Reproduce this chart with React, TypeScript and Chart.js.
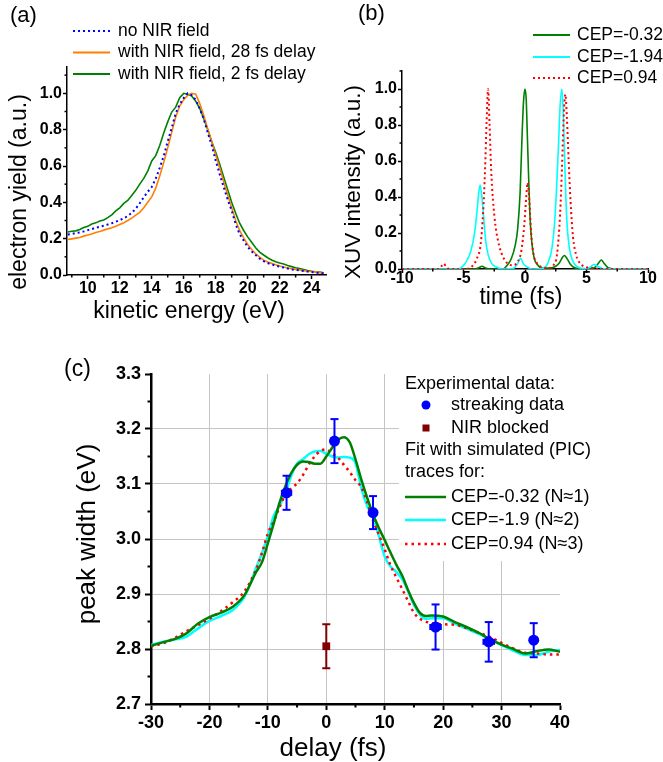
import React, { useEffect, useRef } from 'react';
import { Chart, registerables } from 'chart.js';

Chart.register(...registerables);

const W = 663;
const H = 762;
const FONT = "'Liberation Sans', Arial, Helvetica, sans-serif";

// ---------------- Panel (a): electron yield vs kinetic energy ----------------
const aEnergy = [
  8.75, 9, 9.25, 9.5, 9.75, 10, 10.25, 10.5, 10.75, 11, 11.25, 11.5, 11.75, 12, 12.25, 12.5,
  12.75, 13, 13.25, 13.5, 13.75, 14, 14.25, 14.5, 14.75, 15, 15.25, 15.5, 15.75, 16, 16.25,
  16.5, 16.75, 17, 17.25, 17.5, 17.75, 18, 18.25, 18.5, 18.75, 19, 19.25, 19.5, 19.75, 20,
  20.25, 20.5, 20.75, 21, 21.25, 21.5, 21.75, 22, 22.25, 22.5, 22.75, 23, 23.25, 23.5, 23.75,
  24, 24.25, 24.5, 24.75,
];
const aNoNIR = [
  0.223, 0.226, 0.231, 0.234, 0.24, 0.247, 0.253, 0.26, 0.265, 0.271, 0.278, 0.285, 0.293, 0.302,
  0.312, 0.325, 0.342, 0.365, 0.395, 0.428, 0.458, 0.484, 0.53, 0.59, 0.655, 0.735, 0.81, 0.89,
  0.94, 0.975, 1.0, 0.99, 0.965, 0.915, 0.86, 0.785, 0.715, 0.63, 0.555, 0.485, 0.415, 0.355,
  0.28, 0.225, 0.19, 0.155, 0.13, 0.11, 0.09, 0.076, 0.066, 0.058, 0.052, 0.046, 0.041, 0.036,
  0.031, 0.028, 0.025, 0.022, 0.019, 0.016, 0.013, 0.011, 0.009,
];
const aNIR28fs = [
  0.195, 0.199, 0.203, 0.206, 0.214, 0.22, 0.226, 0.234, 0.24, 0.247, 0.254, 0.26, 0.268, 0.278,
  0.288, 0.3, 0.313, 0.33, 0.345, 0.37, 0.4, 0.43, 0.478, 0.545, 0.62, 0.7, 0.785, 0.87, 0.93,
  0.965, 0.99, 1.0, 0.995, 0.945, 0.88, 0.805, 0.735, 0.66, 0.59, 0.513, 0.44, 0.37, 0.3, 0.245,
  0.204, 0.168, 0.14, 0.117, 0.098, 0.082, 0.072, 0.064, 0.056, 0.049, 0.044, 0.039, 0.035,
  0.031, 0.028, 0.024, 0.021, 0.019, 0.017, 0.013, 0.01,
];
const aNIR2fs = [
  0.237, 0.241, 0.243, 0.25, 0.261, 0.268, 0.281, 0.287, 0.297, 0.303, 0.316, 0.331, 0.353, 0.37,
  0.394, 0.41, 0.438, 0.466, 0.5, 0.532, 0.572, 0.628, 0.657, 0.713, 0.782, 0.843, 0.897, 0.924,
  0.976, 1.0, 0.995, 0.985, 0.957, 0.918, 0.862, 0.801, 0.735, 0.675, 0.61, 0.54, 0.47, 0.4,
  0.34, 0.285, 0.245, 0.21, 0.18, 0.15, 0.126, 0.11, 0.095, 0.083, 0.073, 0.066, 0.06, 0.052,
  0.046, 0.04, 0.035, 0.03, 0.025, 0.021, 0.018, 0.016, 0.012,
];
const aXTicks = [10, 12, 14, 16, 18, 20, 22, 24];
const aXMinor = [9, 11, 13, 15, 17, 19, 21, 23];
const aYTicks = [0, 0.2, 0.4, 0.6, 0.8, 1.0];
const aYMinor = [0.1, 0.3, 0.5, 0.7, 0.9, 1.1];
const aLegend = ['no NIR field', 'with NIR field, 28 fs delay', 'with NIR field, 2 fs delay'];

// ---------------- Panel (b): XUV intensity vs time ----------------
const bGreenT = [
  -10, -4.2, -3.8, -3.5, -3.2, -2.8, -1.8, -1.4, -1.1, -0.8, -0.6, -0.4, -0.25, -0.12, 0, 0.1, 0.2,
  0.3, 0.4, 0.55, 0.75, 1.0, 1.4, 2.0, 2.5, 2.8, 3.05, 3.2, 3.4, 3.7, 4.1, 5.2, 5.7, 6.0, 6.2, 6.45,
  6.8, 7.5, 10,
];
const bGreenV = [
  0, 0, 0.005, 0.015, 0.005, 0, 0, 0.025, 0.06, 0.13, 0.22, 0.42, 0.72, 0.93, 1.0, 0.94, 0.72, 0.5,
  0.3, 0.15, 0.06, 0.025, 0.005, 0.005, 0.015, 0.035, 0.065, 0.075, 0.06, 0.025, 0.005, 0, 0.01,
  0.035, 0.05, 0.03, 0.005, 0, 0,
];
const bCyanT = [
  -10, -5.4, -5.0, -4.7, -4.4, -4.1, -3.9, -3.75, -3.65, -3.55, -3.4, -3.2, -3.0, -2.7, -2.3, -1.8,
  -0.9, -0.6, -0.35, -0.15, 0.2, 0.6, 1.5, 1.9, 2.2, 2.45, 2.7, 2.85, 3.0, 3.12, 3.25, 3.4, 3.6,
  3.85, 4.2, 4.8, 5.3, 5.6, 5.9, 6.3, 7, 10,
];
const bCyanV = [
  0, 0, 0.02, 0.05, 0.1, 0.2, 0.32, 0.43, 0.467, 0.43, 0.32, 0.16, 0.08, 0.03, 0.01, 0, 0.005, 0.03,
  0.06, 0.03, 0.01, 0, 0.005, 0.04, 0.12, 0.3, 0.65, 0.9, 1.0, 0.85, 0.55, 0.27, 0.12, 0.05, 0.015,
  0.003, 0.01, 0.025, 0.015, 0.003, 0, 0,
];
const bRedT = [
  -10, -7.0, -6.8, -6.6, -6.4, -6.1, -4.8, -4.3, -3.9, -3.6, -3.4, -3.25, -3.12, -3.0, -2.88, -2.75,
  -2.6, -2.4, -2.1, -1.8, -1.4, -1.0, -0.6, -0.3, -0.05, 0.1, 0.22, 0.35, 0.5, 0.7, 1.0, 1.4, 1.9,
  2.3, 2.6, 2.85, 3.0, 3.15, 3.28, 3.4, 3.55, 3.7, 3.9, 4.15, 4.5, 5.0, 5.6, 6.2, 10,
];
const bRedV = [
  0, 0, 0.015, 0.03, 0.01, 0, 0, 0.015, 0.06, 0.14, 0.32, 0.55, 0.82, 1.0, 0.8, 0.55, 0.38, 0.24,
  0.13, 0.07, 0.03, 0.02, 0.04, 0.1, 0.25, 0.4, 0.48, 0.38, 0.2, 0.08, 0.03, 0.01, 0.005, 0.02,
  0.08, 0.3, 0.55, 0.85, 0.97, 0.85, 0.6, 0.38, 0.18, 0.08, 0.03, 0.01, 0.005, 0, 0,
];
const bXTicks = [-10, -5, 0, 5, 10];
const bXMinor = [-7.5, -2.5, 2.5, 7.5];
const bYTicks = [0, 0.2, 0.4, 0.6, 0.8, 1.0];
const bYMinor = [0.1, 0.3, 0.5, 0.7, 0.9, 1.1];
const bLegend = ['CEP=-0.32', 'CEP=-1.94', 'CEP=0.94'];

// ---------------- Panel (c): peak width vs delay ----------------
const cDelay = [
  -30, -28, -26, -24, -22, -20, -18, -16, -14, -12, -11, -10, -9, -8, -7, -6, -5, -4, -3, -2, -1, 0,
  1, 2, 3, 4, 5, 6, 7, 8, 9, 10, 11, 12, 13, 14, 15, 16, 17, 18, 20, 22, 24, 26, 28, 30, 32, 34, 36,
  38, 40,
];
const cFitCEPm032 = [
  2.806, 2.812, 2.818, 2.828, 2.846, 2.858, 2.866, 2.877, 2.898, 2.94, 2.958, 2.992, 3.028, 3.066,
  3.096, 3.12, 3.135, 3.141, 3.14, 3.137, 3.137, 3.15, 3.166, 3.18, 3.185, 3.176, 3.145, 3.108,
  3.075, 3.045, 3.02, 2.998, 2.975, 2.953, 2.933, 2.907, 2.884, 2.866, 2.86, 2.861, 2.859, 2.849,
  2.84, 2.83, 2.818, 2.808, 2.8, 2.792, 2.796, 2.799, 2.795,
];
const cFitCEPm19 = [
  2.807, 2.813, 2.817, 2.822, 2.837, 2.851, 2.86, 2.871, 2.895, 2.948, 2.975, 3.005, 3.042, 3.06,
  3.083, 3.115, 3.137, 3.145, 3.154, 3.159, 3.16, 3.155, 3.15, 3.148, 3.149, 3.148, 3.138, 3.092,
  3.06, 3.04, 3.005, 2.968, 2.95, 2.94, 2.927, 2.905, 2.88, 2.863, 2.855, 2.856, 2.856, 2.846,
  2.837, 2.828, 2.818, 2.807, 2.797, 2.789, 2.789, 2.795, 2.798,
];
const cFitCEP094 = [
  2.805, 2.81, 2.82, 2.832, 2.843, 2.855, 2.869, 2.885, 2.905, 2.945, 2.975, 3.01, 3.032, 3.058,
  3.08, 3.092, 3.101, 3.116, 3.135, 3.15, 3.16, 3.163, 3.155, 3.148, 3.135, 3.122, 3.107, 3.094,
  3.067, 3.034, 3.008, 2.981, 2.952, 2.93, 2.909, 2.887, 2.866, 2.855, 2.85, 2.847, 2.845, 2.844,
  2.838, 2.83, 2.822, 2.811, 2.801, 2.793, 2.792, 2.79, 2.79,
];
const cExpDelay = [-6.8, 1.4, 8.0, 18.7, 27.8, 35.5];
const cExpWidth = [3.084, 3.178, 3.048, 2.84, 2.813, 2.816];
const cExpErr = [0.031, 0.04, 0.03, 0.041, 0.036, 0.031];
const cExpDelayErr = [0.8, 0, 0, 0.9, 0.9, 0];
const cNirDelay = [0];
const cNirWidth = [2.805];
const cNirErr = [0.04];
const cXTicks = [-30, -20, -10, 0, 10, 20, 30, 40];
const cXMinor = [-25, -15, -5, 5, 15, 25, 35];
const cYTicks = [2.7, 2.8, 2.9, 3.0, 3.1, 3.2, 3.3];
const cYMinor = [2.75, 2.85, 2.95, 3.05, 3.15, 3.25];
const cLegendHead = ['Experimental data:', 'Fit with simulated (PIC)', 'traces for:'];
const cLegendExp = ['streaking data', 'NIR blocked'];
const cLegendFit = ['CEP=-0.32 (N\u22481)', 'CEP=-1.9 (N\u22482)', 'CEP=0.94 (N\u22483)'];

// ---------------- helpers ----------------
const GREEN = '#008000';
const CYAN = '#00FFFF';
const RED = '#FF0000';
const BLUE = '#0000FF';
const ORANGE = '#FF8000';
const DARKRED = '#800000';

type AxisSpec = {
  min: number; max: number; ticks: number[]; minor: number[]; dec: number;
  tickLen: number; minorLen: number; tickW: number; borderW: number; pad: number; font: number; grid: boolean;
};
type Spec = {
  area: { l: number; t: number; r: number; b: number };
  yW: number; xH: number; x: AxisSpec; y: AxisSpec; datasets: any[];
  beforeDs?: (c: any) => void; afterDs?: (c: any) => void; after?: (c: any) => void;
};

function pts(xs: number[], ys: number[]) {
  return xs.map((x, i) => ({ x, y: ys[i] }));
}

function lineDs(xs: number[], ys: number[], color: string, width: number, dash: number[] = [], smooth = false) {
  return {
    type: 'line', data: pts(xs, ys), borderColor: color, backgroundColor: color, borderWidth: width,
    borderDash: dash, pointRadius: 0, fill: false, tension: 0,
    cubicInterpolationMode: smooth ? 'monotone' : 'default',
  };
}

function text(ctx: CanvasRenderingContext2D, t: string, x: number, y: number, size: number,
  align: CanvasTextAlign = 'left', rot = false, bold = false) {
  ctx.save();
  ctx.font = `${bold ? 'bold ' : ''}${size}px ${FONT}`;
  ctx.fillStyle = '#000';
  ctx.textAlign = align;
  ctx.textBaseline = 'middle';
  ctx.translate(x, y);
  if (rot) ctx.rotate(-Math.PI / 2);
  ctx.fillText(t, 0, 0);
  ctx.restore();
}

function seg(ctx: CanvasRenderingContext2D, x1: number, y1: number, x2: number, y2: number,
  color: string, width: number, dash: number[] = []) {
  ctx.save();
  ctx.strokeStyle = color;
  ctx.lineWidth = width;
  ctx.setLineDash(dash);
  ctx.beginPath();
  ctx.moveTo(x1, y1);
  ctx.lineTo(x2, y2);
  ctx.stroke();
  ctx.restore();
}

function scaleOpts(a: AxisSpec, which: 'x' | 'y', fixed: number) {
  return {
    type: 'linear',
    position: which === 'x' ? 'bottom' : 'left',
    min: a.min,
    max: a.max,
    afterBuildTicks: (s: any) => { s.ticks = a.ticks.map((v) => ({ value: v })); },
    afterFit: (s: any) => { if (which === 'x') s.height = fixed; else s.width = fixed; },
    ticks: {
      autoSkip: false, maxRotation: 0, minRotation: 0, color: '#000', padding: a.pad,
      font: { family: FONT, size: a.font, weight: 'bold' },
      callback: (v: any) => Number(v).toFixed(a.dec),
    },
    grid: {
      drawOnChartArea: a.grid,
      color: (c: any) => {
        const v = c.tick ? c.tick.value : NaN;
        return Math.abs(v - a.min) < 1e-9 || Math.abs(v - a.max) < 1e-9 ? 'rgba(0,0,0,0)' : '#c4c4c4';
      },
      lineWidth: 1,
      tickLength: a.tickLen,
      tickWidth: a.tickW,
      tickColor: '#000',
    },
    border: { display: true, color: '#000', width: a.borderW },
  };
}

function drawMinor(chart: any, spec: Spec) {
  const ctx = chart.ctx as CanvasRenderingContext2D;
  const ca = chart.chartArea;
  const sx = chart.scales.x;
  const sy = chart.scales.y;
  for (const v of spec.x.minor) {
    const p = sx.getPixelForValue(v);
    seg(ctx, p, ca.bottom, p, ca.bottom + spec.x.minorLen, '#000', spec.x.tickW);
  }
  for (const v of spec.y.minor) {
    const p = sy.getPixelForValue(v);
    seg(ctx, ca.left - spec.y.minorLen, p, ca.left, p, '#000', spec.y.tickW);
  }
}

function errBars(chart: any, xs: number[], ys: number[], yErr: number[], xErr: number[], color: string) {
  const ctx = chart.ctx as CanvasRenderingContext2D;
  const sx = chart.scales.x;
  const sy = chart.scales.y;
  xs.forEach((x, i) => {
    const px = sx.getPixelForValue(x);
    const py = sy.getPixelForValue(ys[i]);
    const top = sy.getPixelForValue(ys[i] + yErr[i]);
    const bot = sy.getPixelForValue(ys[i] - yErr[i]);
    seg(ctx, px, top, px, bot, color, 2);
    seg(ctx, px - 4, top, px + 4, top, color, 2);
    seg(ctx, px - 4, bot, px + 4, bot, color, 2);
    if (xErr[i] > 0) {
      const l = sx.getPixelForValue(x - xErr[i]);
      const r = sx.getPixelForValue(x + xErr[i]);
      seg(ctx, l, py, r, py, color, 2);
      seg(ctx, l, py - 3, l, py + 3, color, 2);
      seg(ctx, r, py - 3, r, py + 3, color, 2);
    }
  });
}

// ---------------- panel specs ----------------
const specA: Spec = {
  area: { l: 67, t: 67, r: 326, b: 275 },
  yW: 50, xH: 40,
  x: { min: 8.7, max: 24.9, ticks: aXTicks, minor: aXMinor, dec: 0, tickLen: 4, minorLen: 2.5, tickW: 1.5, borderW: 1.5, pad: 0, font: 16, grid: false },
  y: { min: 0, max: 1.145, ticks: aYTicks, minor: aYMinor, dec: 1, tickLen: 4, minorLen: 2.5, tickW: 1.5, borderW: 1.5, pad: 1, font: 16, grid: false },
  datasets: [
    lineDs(aEnergy, aNoNIR, BLUE, 2, [2, 3]),
    lineDs(aEnergy, aNIR28fs, ORANGE, 1.6),
    lineDs(aEnergy, aNIR2fs, GREEN, 1.6),
  ],
  after: (c) => {
    const ctx = c.ctx;
    text(ctx, '(a)', 10, 16, 22);
    const ys = [31, 52.5, 74];
    seg(ctx, 73, ys[0], 110, ys[0], BLUE, 2, [2, 3]);
    seg(ctx, 73, ys[1], 110, ys[1], ORANGE, 2);
    seg(ctx, 73, ys[2], 110, ys[2], GREEN, 2);
    aLegend.forEach((t, i) => text(ctx, t, 118, ys[i], 17.5));
    text(ctx, 'kinetic energy (eV)', 189, 312, 23, 'center');
    text(ctx, 'electron yield (a.u.)', 20, 192, 23, 'center', true);
  },
};

const specB: Spec = {
  area: { l: 402, t: 71, r: 648, b: 269 },
  yW: 50, xH: 40,
  x: { min: -10, max: 10, ticks: bXTicks, minor: bXMinor, dec: 0, tickLen: 4, minorLen: 2.5, tickW: 1.5, borderW: 1.5, pad: -4, font: 16, grid: false },
  y: { min: 0, max: 1.1, ticks: bYTicks, minor: bYMinor, dec: 1, tickLen: 4, minorLen: 2.5, tickW: 1.5, borderW: 1.5, pad: 1, font: 16, grid: false },
  datasets: [
    lineDs(bRedT, bRedV, RED, 2, [2, 3], true),
    lineDs(bCyanT, bCyanV, CYAN, 1.6, [], true),
    lineDs(bGreenT, bGreenV, GREEN, 1.6, [], true),
  ],
  after: (c) => {
    const ctx = c.ctx;
    text(ctx, '(b)', 358, 14, 22);
    const ys = [35, 57, 78];
    seg(ctx, 533, ys[0], 570, ys[0], GREEN, 2);
    seg(ctx, 533, ys[1], 570, ys[1], CYAN, 2);
    seg(ctx, 533, ys[2], 570, ys[2], RED, 2, [2, 3]);
    bLegend.forEach((t, i) => text(ctx, t, 577, ys[i], 17.5));
    text(ctx, 'time (fs)', 521, 298, 23, 'center');
    text(ctx, 'XUV intensity (a.u.)', 354, 182, 22.5, 'center', true);
  },
};

const specC: Spec = {
  area: { l: 151, t: 374, r: 560, b: 704 },
  yW: 60, xH: 45,
  x: { min: -30, max: 40, ticks: cXTicks, minor: cXMinor, dec: 0, tickLen: 6, minorLen: 3.5, tickW: 2, borderW: 2.5, pad: 2, font: 18, grid: true },
  y: { min: 2.7, max: 3.3, ticks: cYTicks, minor: cYMinor, dec: 1, tickLen: 6, minorLen: 3.5, tickW: 2, borderW: 2.5, pad: 4, font: 18, grid: true },
  datasets: [
    { type: 'scatter', data: pts(cExpDelay, cExpWidth), pointStyle: 'circle', pointRadius: 5.5, backgroundColor: BLUE, borderColor: BLUE, borderWidth: 0 },
    { type: 'scatter', data: pts(cNirDelay, cNirWidth), pointStyle: 'rect', pointRadius: 5.5, backgroundColor: DARKRED, borderColor: DARKRED, borderWidth: 0 },
    lineDs(cDelay, cFitCEPm032, GREEN, 2.5, [], true),
    lineDs(cDelay, cFitCEP094, RED, 2.5, [2.5, 4], true),
    lineDs(cDelay, cFitCEPm19, CYAN, 2.5, [], true),
  ],
  beforeDs: (c) => {
    const ctx = c.ctx as CanvasRenderingContext2D;
    ctx.save();
    ctx.fillStyle = '#fff';
    ctx.fillRect(399, 372, 215, 189);
    ctx.restore();
  },
  afterDs: (c) => {
    errBars(c, cExpDelay, cExpWidth, cExpErr, cExpDelayErr, BLUE);
    errBars(c, cNirDelay, cNirWidth, cNirErr, [0], DARKRED);
  },
  after: (c) => {
    const ctx = c.ctx as CanvasRenderingContext2D;
    text(ctx, '(c)', 64, 370, 23);
    text(ctx, cLegendHead[0], 405, 384, 18);
    ctx.save();
    ctx.fillStyle = BLUE;
    ctx.beginPath();
    ctx.arc(426, 405, 4.5, 0, Math.PI * 2);
    ctx.fill();
    ctx.fillStyle = DARKRED;
    ctx.fillRect(422.5, 424.5, 7, 7);
    ctx.restore();
    text(ctx, cLegendExp[0], 451, 405, 18);
    text(ctx, cLegendExp[1], 451, 428, 18);
    text(ctx, cLegendHead[1], 405, 450, 18);
    text(ctx, cLegendHead[2], 405, 472, 18);
    const ys = [497, 520, 544];
    seg(ctx, 405, ys[0], 446, ys[0], GREEN, 2.5);
    seg(ctx, 405, ys[1], 446, ys[1], CYAN, 2.5);
    seg(ctx, 405, ys[2], 446, ys[2], RED, 2.5, [2.5, 4]);
    cLegendFit.forEach((t, i) => text(ctx, t, 451, ys[i], 18));
    text(ctx, 'delay (fs)', 333, 749, 26, 'center');
    text(ctx, 'peak width (eV)', 88, 534, 26, 'center', true);
  },
};

function Panel({ spec }: { spec: Spec }) {
  const ref = useRef<HTMLCanvasElement>(null);
  useEffect(() => {
    const canvas = ref.current;
    if (!canvas) return;
    const plugin = {
      id: 'panelExtras',
      beforeDatasetsDraw: (chart: any) => { if (spec.beforeDs) spec.beforeDs(chart); },
      afterDatasetsDraw: (chart: any) => { if (spec.afterDs) spec.afterDs(chart); },
      afterDraw: (chart: any) => { drawMinor(chart, spec); if (spec.after) spec.after(chart); },
    };
    const chart = new Chart(canvas, {
      type: 'line',
      data: { datasets: spec.datasets as any },
      options: {
        responsive: false,
        animation: false,
        events: [],
        layout: {
          padding: {
            left: spec.area.l - spec.yW,
            top: spec.area.t,
            right: W - spec.area.r,
            bottom: H - spec.area.b - spec.xH,
          },
        },
        plugins: { legend: { display: false }, tooltip: { enabled: false } },
        scales: {
          x: scaleOpts(spec.x, 'x', spec.xH) as any,
          y: scaleOpts(spec.y, 'y', spec.yW) as any,
        },
      },
      plugins: [plugin],
    });
    return () => chart.destroy();
  }, [spec]);
  return (
    <canvas
      ref={ref}
      width={W}
      height={H}
      style={{ position: 'absolute', left: 0, top: 0, width: W, height: H }}
    />
  );
}

export default function App() {
  return (
    <div style={{ position: 'absolute', left: 0, top: 0, width: W, height: H, background: '#fff' }}>
      <Panel spec={specA} />
      <Panel spec={specB} />
      <Panel spec={specC} />
    </div>
  );
}
